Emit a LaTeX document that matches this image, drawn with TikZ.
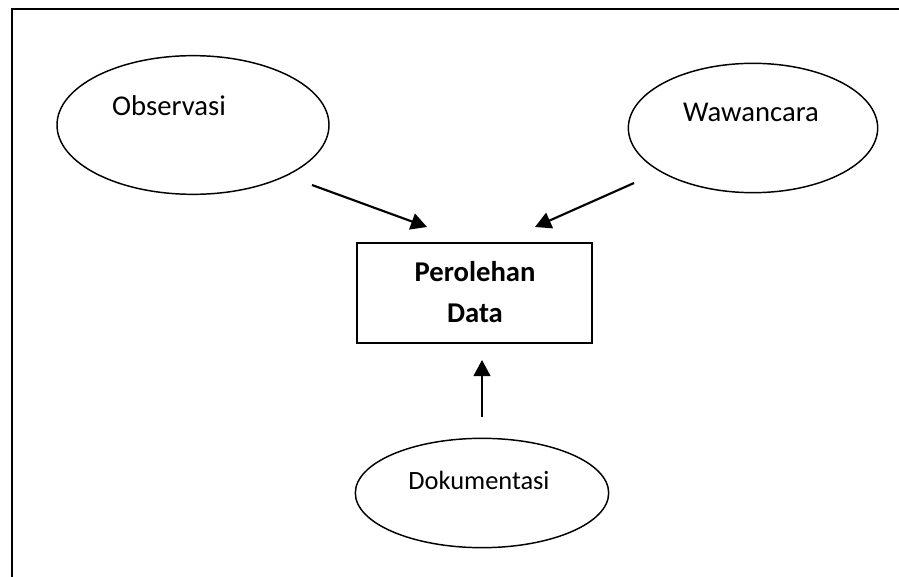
\documentclass[tikz,border=0pt]{standalone}
\usepackage{fontspec}
\setmainfont{Carlito}
\usetikzlibrary{shapes.geometric,arrows.meta}

\tikzset{
  sumber/.style={draw, ellipse, line width=1.1pt, inner sep=0pt},
  teks/.style={font=\fontsize{21.5}{26}\selectfont},
  panah/.style={line width=1.6pt, -{Triangle[length=12pt,width=12.5pt]}}
}

\begin{document}
\begin{tikzpicture}[x=0.75pt, y=-0.75pt]
        \useasboundingbox (0,0) rectangle (899,577);
        \draw[line width=1.6pt] (12,577) -- (12,9) -- (899,9);

        % sumber data
        \node[sumber, minimum width=204pt, minimum height=104pt] (obs) at (193,125) {};
        \node[teks] (obstxt) at (169,106) {Observasi};

        \node[sumber, minimum width=187pt, minimum height=97pt] (waw) at (753,128) {};
        \node[teks] (wawtxt) at (751,112) {Wawancara};

        \node[sumber, minimum width=190pt, minimum height=82pt] (dok) at (482,493) {};
        \node[teks, font=\fontsize{19.8}{24}\selectfont] (doktxt) at (479,480) {Dokumentasi};

        % hasil
        \node[draw, line width=1.3pt, minimum width=176pt, minimum height=75pt] (data) at (474.5,293) {};
        \node[teks, align=center, font=\fontsize{21.5}{30.5}\selectfont\bfseries] (datatxt) at (475,292) {Perolehan\\Data};

        \coordinate (a1) at (312,185);
        \coordinate (a2) at (427,227);
        \coordinate (b1) at (634,183);
        \coordinate (b2) at (535,227);
        \coordinate (c1) at (482,417);
        \coordinate (c2) at (482,360);

        \draw[panah] (a1) -- (a2);
        \draw[panah] (b1) -- (b2);
        \draw[panah] (c1) -- (c2);
\end{tikzpicture}
\end{document}
